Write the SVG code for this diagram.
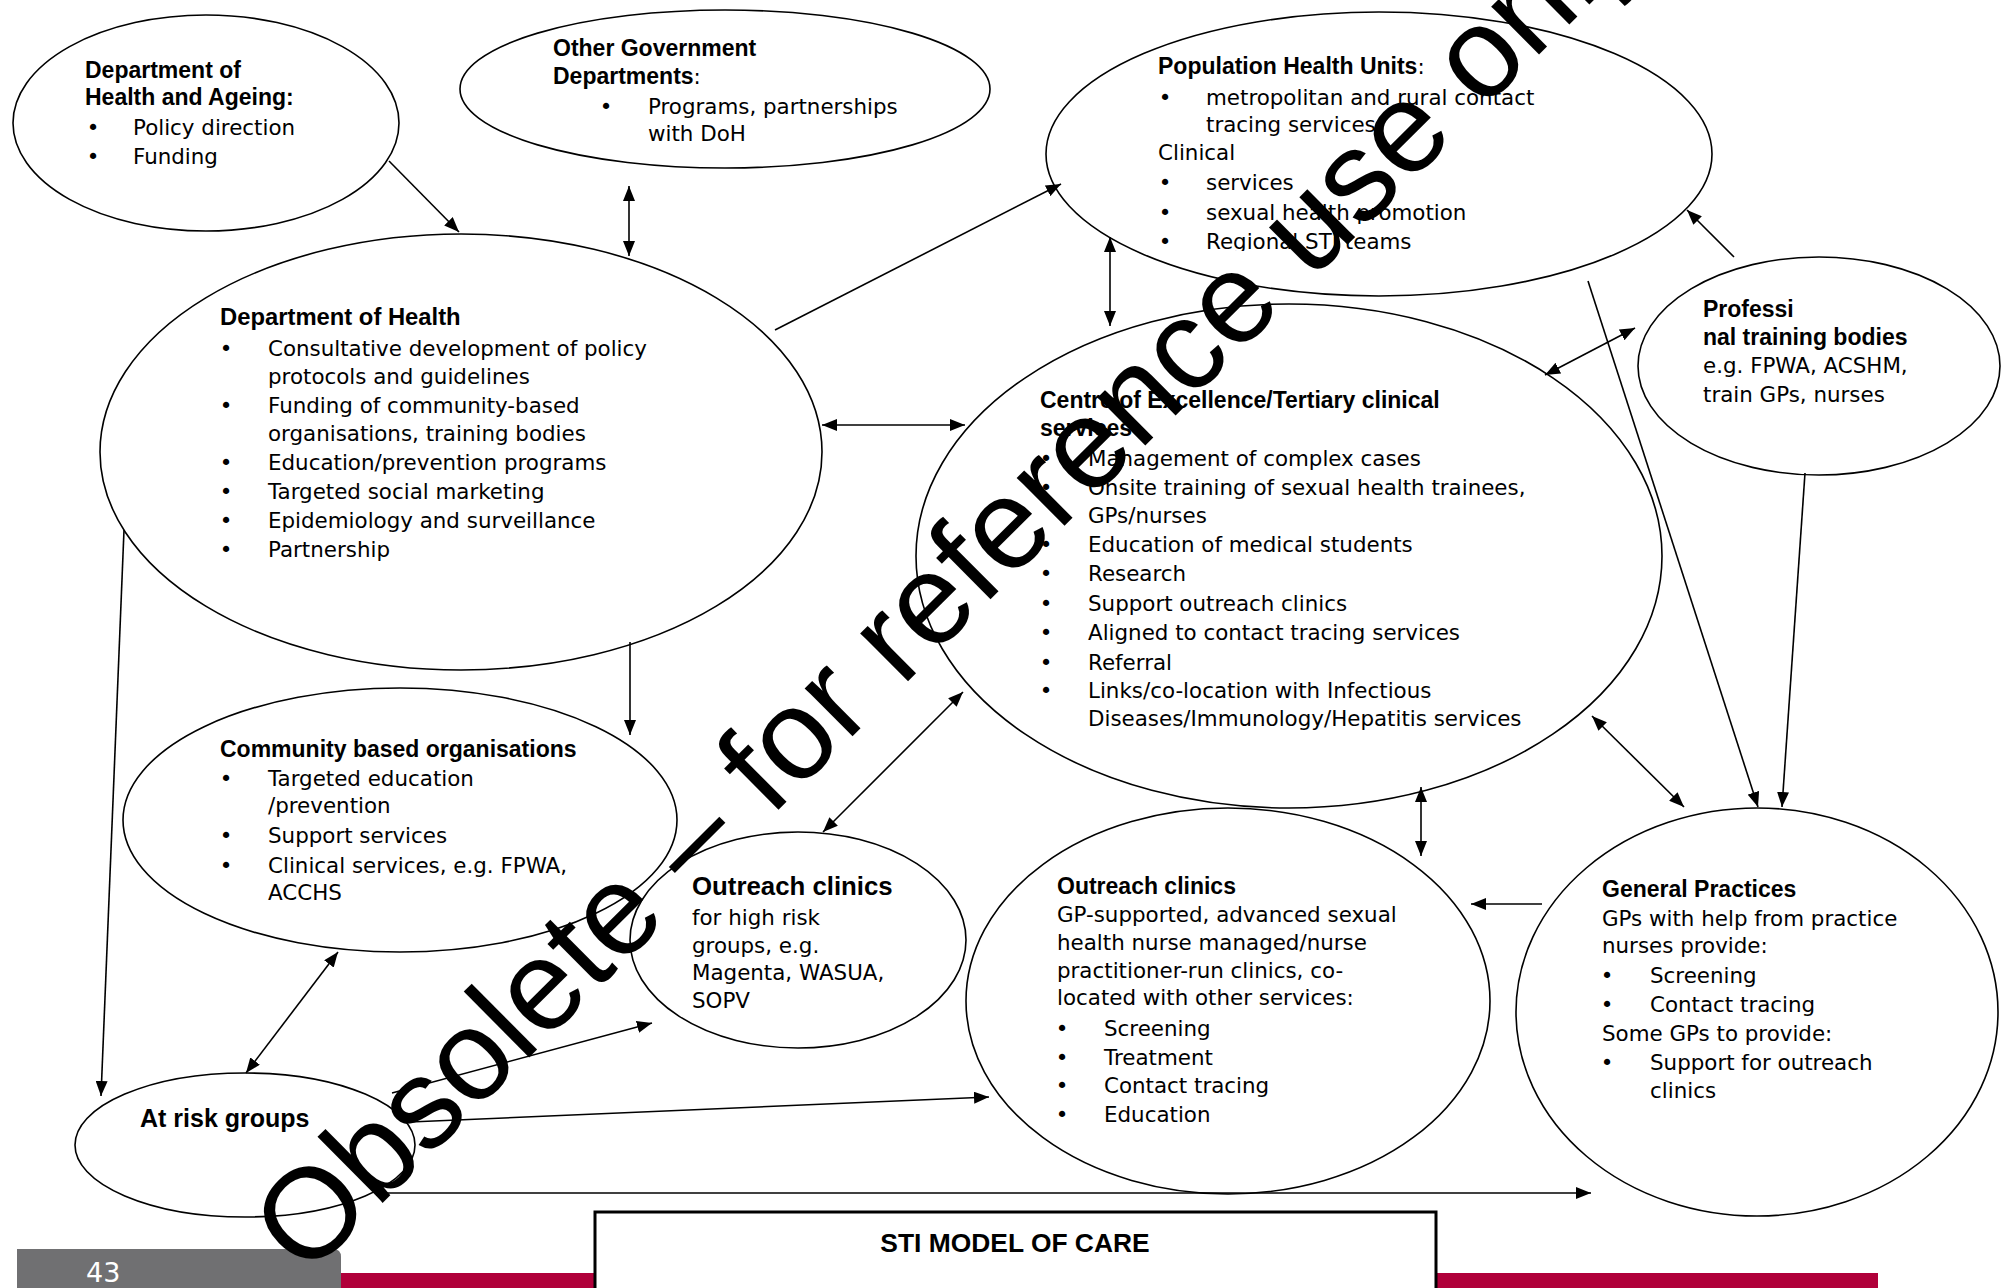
<svg xmlns="http://www.w3.org/2000/svg" width="2011" height="1288" viewBox="0 0 2011 1288">
<style>
.n ellipse{fill:#fff;stroke:#000;stroke-width:1.6}
text{fill:#000}
.t{font-family:"DejaVu Sans",Verdana,sans-serif;font-size:21.4px}
.h{font-family:"Liberation Sans",Arial,sans-serif;font-weight:bold;font-size:23px}
.bu{font-family:"DejaVu Sans",Verdana,sans-serif;font-size:21.4px;text-anchor:middle}
.c line{stroke:#000;stroke-width:1.6;fill:none}
.a1{marker-end:url(#ah)}
.a2{marker-end:url(#ah);marker-start:url(#ah)}
</style>
<defs>
<marker id="ah" markerUnits="userSpaceOnUse" markerWidth="16" markerHeight="12" refX="15" refY="6" orient="auto-start-reverse">
<path d="M0,0 L15,6 L0,12 z" fill="#000"/>
</marker>
<clipPath id="clipPHU"><rect x="1000" y="0" width="800" height="251"/></clipPath>
<clipPath id="clipCE"><rect x="900" y="280" width="800" height="450"/></clipPath>
</defs>
<rect width="2011" height="1288" fill="#fff"/>

<g id="footer">
<path d="M17,1249 H333 Q341,1249 341,1257 V1288 H17 Z" fill="#707072"/>
<rect x="341" y="1273" width="1537" height="15" fill="#b0003a"/>
<text x="86" y="1282" font-family="DejaVu Sans,sans-serif" font-size="27" style="fill:#fff">43</text>
</g>

<g id="node-dha" class="n">
<ellipse cx="206" cy="123" rx="193" ry="108"/>
<text class="h" x="85" y="78">Department of</text>
<text class="h" x="85" y="105">Health and Ageing:</text>
<text class="bu" x="93" y="135">•</text><text class="t" x="133" y="135">Policy direction</text>
<text class="bu" x="93" y="164">•</text><text class="t" x="133" y="164">Funding</text>
</g>

<g id="node-ogd" class="n">
<ellipse cx="725" cy="89" rx="265" ry="79"/>
<text class="h" x="553" y="56">Other Government</text>
<text x="553" y="84"><tspan class="h">Departments</tspan><tspan class="t">:</tspan></text>
<text class="bu" x="606" y="114">•</text><text class="t" x="648" y="114">Programs, partnerships</text>
<text class="t" x="648" y="141">with DoH</text>
</g>

<g id="node-doh" class="n">
<ellipse cx="461" cy="452" rx="361" ry="218"/>
<text class="h" x="220" y="325" style="font-size:23.8px">Department of Health</text>
<text class="bu" x="226" y="356">•</text><text class="t" x="268" y="356">Consultative development of policy</text>
<text class="t" x="268" y="384">protocols and guidelines</text>
<text class="bu" x="226" y="413">•</text><text class="t" x="268" y="413">Funding of community-based</text>
<text class="t" x="268" y="441">organisations, training bodies</text>
<text class="bu" x="226" y="470">•</text><text class="t" x="268" y="470">Education/prevention programs</text>
<text class="bu" x="226" y="499">•</text><text class="t" x="268" y="499">Targeted social marketing</text>
<text class="bu" x="226" y="528">•</text><text class="t" x="268" y="528">Epidemiology and surveillance</text>
<text class="bu" x="226" y="557">•</text><text class="t" x="268" y="557">Partnership</text>
</g>

<g id="node-phu" class="n">
<ellipse cx="1379" cy="154" rx="333" ry="142"/>
<text x="1158" y="74"><tspan class="h">Population Health Units</tspan><tspan class="t">:</tspan></text>
<text class="bu" x="1165" y="105">•</text><text class="t" x="1206" y="105">metropolitan and rural contact</text>
<text class="t" x="1206" y="132">tracing services</text>
<text class="t" x="1158" y="160">Clinical</text>
<text class="bu" x="1165" y="190">•</text><text class="t" x="1206" y="190">services</text>
<text class="bu" x="1165" y="220">•</text><text class="t" x="1206" y="220">sexual health promotion</text>
<g clip-path="url(#clipPHU)"><text class="bu" x="1165" y="249">•</text><text class="t" x="1206" y="249">Regional STI teams</text></g>
</g>

<g id="node-ptb" class="n">
<ellipse cx="1819" cy="366" rx="181" ry="109"/>
<text class="h" x="1703" y="317">Professi</text>
<text class="h" x="1703" y="345">nal training bodies</text>
<text class="t" x="1703" y="373">e.g. FPWA, ACSHM,</text>
<text class="t" x="1703" y="402">train GPs, nurses</text>
</g>

<g id="node-coe" class="n">
<ellipse cx="1289" cy="556" rx="373" ry="252"/>
<text class="h" x="1040" y="408">Centre of Excellence/Tertiary clinical</text>
<text class="h" x="1040" y="436">services</text>
<text class="bu" x="1046" y="466">•</text><text class="t" x="1088" y="466">Management of complex cases</text>
<text class="bu" x="1046" y="495">•</text><text class="t" x="1088" y="495">Onsite training of sexual health trainees,</text>
<text class="t" x="1088" y="523">GPs/nurses</text>
<text class="bu" x="1046" y="552">•</text><text class="t" x="1088" y="552">Education of medical students</text>
<text class="bu" x="1046" y="581">•</text><text class="t" x="1088" y="581">Research</text>
<text class="bu" x="1046" y="611">•</text><text class="t" x="1088" y="611">Support outreach clinics</text>
<text class="bu" x="1046" y="640">•</text><text class="t" x="1088" y="640">Aligned to contact tracing services</text>
<text class="bu" x="1046" y="670">•</text><text class="t" x="1088" y="670">Referral</text>
<text class="bu" x="1046" y="698">•</text><text class="t" x="1088" y="698">Links/co-location with Infectious</text>
<g clip-path="url(#clipCE)"><text class="t" x="1088" y="726">Diseases/Immunology/Hepatitis services</text></g>
</g>

<g id="node-cbo" class="n">
<ellipse cx="400" cy="820" rx="277" ry="132"/>
<text class="h" x="220" y="757">Community based organisations</text>
<text class="bu" x="226" y="786">•</text><text class="t" x="268" y="786">Targeted education</text>
<text class="t" x="268" y="813">/prevention</text>
<text class="bu" x="226" y="843">•</text><text class="t" x="268" y="843">Support services</text>
<text class="bu" x="226" y="873">•</text><text class="t" x="268" y="873">Clinical services, e.g. FPWA,</text>
<text class="t" x="268" y="900">ACCHS</text>
</g>

<g id="node-ocs" class="n">
<ellipse cx="798" cy="940" rx="168" ry="108"/>
<text class="h" x="692" y="895" style="font-size:25.8px">Outreach clinics</text>
<text class="t" x="692" y="925">for high risk</text>
<text class="t" x="692" y="953">groups, e.g.</text>
<text class="t" x="692" y="980">Magenta, WASUA,</text>
<text class="t" x="692" y="1008">SOPV</text>
</g>

<g id="node-ocb" class="n">
<ellipse cx="1228" cy="1001" rx="262" ry="193"/>
<text class="h" x="1057" y="894">Outreach clinics</text>
<text class="t" x="1057" y="922">GP-supported, advanced sexual</text>
<text class="t" x="1057" y="950">health nurse managed/nurse</text>
<text class="t" x="1057" y="978">practitioner-run clinics, co-</text>
<text class="t" x="1057" y="1005">located with other services:</text>
<text class="bu" x="1062" y="1036">•</text><text class="t" x="1104" y="1036">Screening</text>
<text class="bu" x="1062" y="1065">•</text><text class="t" x="1104" y="1065">Treatment</text>
<text class="bu" x="1062" y="1093">•</text><text class="t" x="1104" y="1093">Contact tracing</text>
<text class="bu" x="1062" y="1122">•</text><text class="t" x="1104" y="1122">Education</text>
</g>

<g id="node-gp" class="n">
<ellipse cx="1757" cy="1012" rx="241" ry="204"/>
<text class="h" x="1602" y="897">General Practices</text>
<text class="t" x="1602" y="926">GPs with help from practice</text>
<text class="t" x="1602" y="953">nurses provide:</text>
<text class="bu" x="1607" y="983">•</text><text class="t" x="1650" y="983">Screening</text>
<text class="bu" x="1607" y="1012">•</text><text class="t" x="1650" y="1012">Contact tracing</text>
<text class="t" x="1602" y="1041">Some GPs to provide:</text>
<text class="bu" x="1607" y="1070">•</text><text class="t" x="1650" y="1070">Support for outreach</text>
<text class="t" x="1650" y="1098">clinics</text>
</g>

<g id="node-arg" class="n">
<ellipse cx="245" cy="1145" rx="170" ry="72"/>
<text class="h" x="140" y="1127" style="font-size:25px">At risk groups</text>
</g>

<g id="connectors" class="c">
<line class="a1" x1="389" y1="161" x2="459" y2="232"/>
<line class="a2" x1="629" y1="186" x2="629" y2="256"/>
<line class="a1" x1="775" y1="330" x2="1061" y2="184"/>
<line class="a2" x1="822" y1="425" x2="965" y2="425"/>
<line class="a1" x1="124" y1="530" x2="101" y2="1096"/>
<line class="a1" x1="630" y1="642" x2="630" y2="735"/>
<line class="a2" x1="1110" y1="237" x2="1110" y2="326"/>
<line class="a1" x1="1734" y1="257" x2="1687" y2="210"/>
<line class="a2" x1="1635" y1="328" x2="1545" y2="375"/>
<line class="a1" x1="1588" y1="281" x2="1758" y2="807"/>
<line class="a1" x1="1805" y1="473" x2="1782" y2="807"/>
<line class="a2" x1="1592" y1="716" x2="1684" y2="807"/>
<line class="a2" x1="1421" y1="787" x2="1421" y2="856"/>
<line class="a1" x1="1542" y1="904" x2="1471" y2="904"/>
<line class="a2" x1="963" y1="692" x2="823" y2="832"/>
<line class="a2" x1="338" y1="952" x2="246" y2="1073"/>
<line class="a1" x1="392" y1="1093" x2="652" y2="1023"/>
<line class="a1" x1="410" y1="1122" x2="989" y2="1097"/>
<line class="a1" x1="387" y1="1193" x2="1591" y2="1193"/>
</g>

<g id="title">
<rect x="595" y="1212" width="841" height="80" fill="#fff" stroke="#000" stroke-width="3"/>
<text x="1015" y="1252" font-family="Liberation Sans,Arial,sans-serif" font-weight="bold" font-size="26.4" text-anchor="middle">STI MODEL OF CARE</text>
</g>

<text id="watermark" x="306" y="1279" transform="rotate(-44.8 306 1279)" font-family="Liberation Sans,Arial,sans-serif" font-size="128">Obsolete – for reference use only</text>
</svg>
